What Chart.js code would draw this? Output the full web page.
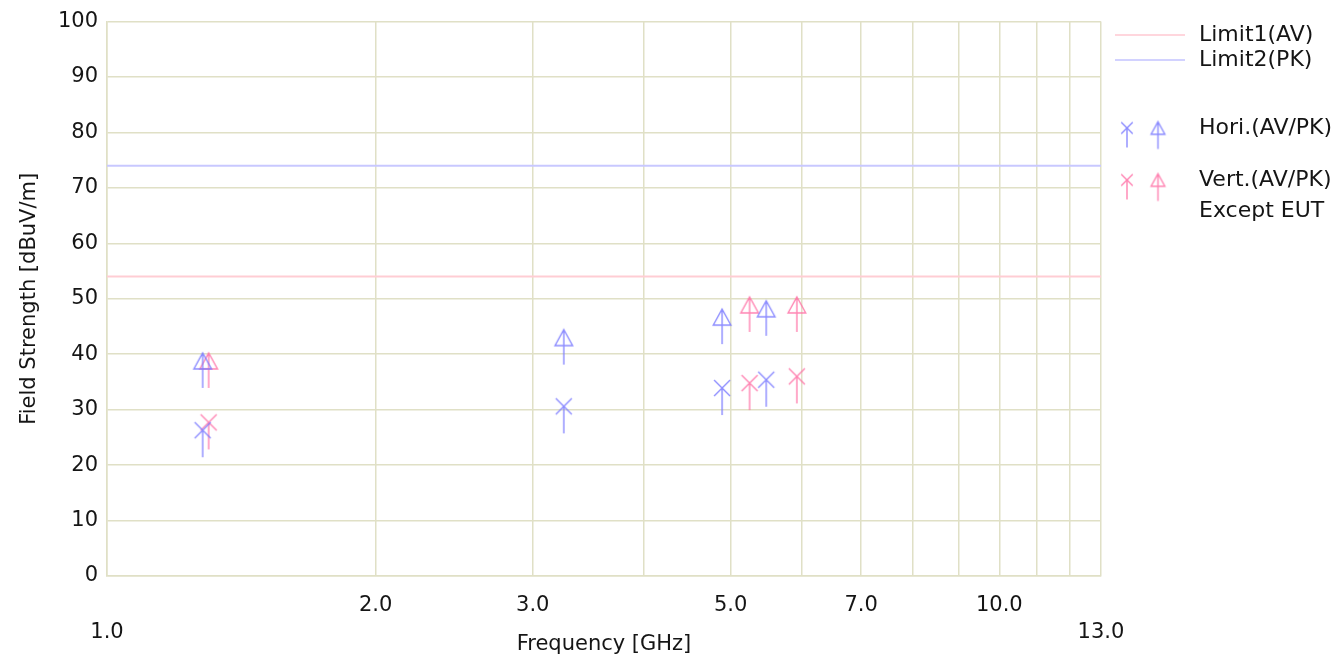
<!DOCTYPE html>
<html>
<head>
<meta charset="utf-8">
<script src="https://cdn.jsdelivr.net/npm/chart.js@4/dist/chart.umd.min.js"></script>
<style>
    html, body { margin: 0; padding: 0; background: #fff; }
    #wrap { width: 1337px; height: 657px; position: relative; }
</style>
</head>
<body>
<div id="wrap"><canvas id="chart" width="1337" height="657"></canvas></div>
<script>
// frequencies in GHz, levels in dBuV/m
const horiFreq = [1.28, 3.25, 4.89, 5.48]
const horiAV = [26.3, 30.6, 33.9, 35.4]
const horiPK = [38.8, 43.0, 46.7, 48.2]

const vertFreq = [1.30, 5.25, 5.93]
const vertAV = [27.7, 34.8, 36.0]
const vertPK = [38.8, 48.9, 48.9]

const limitFreq = [1.0, 13.0]
const limit1AV = 54
const limit2PK = 74

const gridFreqs = [1, 2, 3, 4, 5, 6, 7, 8, 9, 10, 11, 12, 13]
const labelFreqs = [2, 3, 5, 7, 10]
const edgeFreqs = [1, 13]

const BLUE = 'rgba(120,120,255,0.85)'
const PINK = 'rgba(255,110,165,0.85)'
const GRID = 'rgb(224,224,198)'
const FONT = 'DejaVu Sans'
const TEXT = '#151515'

// marker with a stem going down from its centre
function makeIcon(kind, color, s) {
    const arm = 8 * s
    const stem = 27 * s
    const w = Math.ceil(arm * 2 + 6)
    const h = Math.ceil(stem * 2 + 6)
    const c = document.createElement('canvas')
    c.width = w
    c.height = h
    const g = c.getContext('2d')
    const cx = w / 2, cy = h / 2
    g.strokeStyle = color
    g.lineWidth = 1.4
    g.beginPath()
    if (kind === 'x') {
        g.moveTo(cx - arm, cy - arm)
        g.lineTo(cx + arm, cy + arm)
        g.moveTo(cx + arm, cy - arm)
        g.lineTo(cx - arm, cy + arm)
        g.moveTo(cx, cy)
        g.lineTo(cx, cy + stem)
    } else {
        g.moveTo(cx, cy - arm)
        g.lineTo(cx + arm * 1.1, cy + arm)
        g.lineTo(cx - arm * 1.1, cy + arm)
        g.closePath()
        g.moveTo(cx, cy - arm)
        g.lineTo(cx, cy + stem)
    }
    g.stroke()
    return c
}

function pts(xs, ys) {
    return xs.map((x, i) => ({ x: x, y: ys[i] }))
}

const legendPlugin = {
    id: 'sideLegend',
    afterDraw(chart) {
        const ctx = chart.ctx
        ctx.save()
        ctx.font = '22px "' + FONT + '"'
        ctx.fillStyle = TEXT
        ctx.textBaseline = 'middle'
        ctx.textAlign = 'left'
        const tx = 1199

        ctx.lineWidth = 1.5
        ctx.strokeStyle = 'rgb(255,200,210)'
        ctx.beginPath(); ctx.moveTo(1115, 35); ctx.lineTo(1185, 35); ctx.stroke()
        ctx.fillText('Limit1(AV)', tx, 35)
        ctx.strokeStyle = 'rgb(195,195,255)'
        ctx.beginPath(); ctx.moveTo(1115, 60); ctx.lineTo(1185, 60); ctx.stroke()
        ctx.fillText('Limit2(PK)', tx, 60)

        const rows = [[BLUE, 128, 'Hori.(AV/PK)'], [PINK, 180, 'Vert.(AV/PK)']]
        rows.forEach(([col, y, txt]) => {
            const ix = makeIcon('x', col, 0.72)
            const it = makeIcon('t', col, 0.78)
            ctx.drawImage(ix, 1127 - ix.width / 2, y - ix.height / 2)
            ctx.drawImage(it, 1158 - it.width / 2, y - it.height / 2)
            ctx.fillText(txt, tx, y)
        })
        ctx.fillText('Except EUT', tx, 211)
        ctx.restore()
    }
}

new Chart(document.getElementById('chart'), {
    type: 'scatter',
    data: {
        datasets: [
            {
                label: 'Limit1(AV)',
                data: pts(limitFreq, [limit1AV, limit1AV]),
                showLine: true,
                borderColor: 'rgb(255,205,212)',
                borderWidth: 2,
                pointRadius: 0,
            },
            {
                label: 'Limit2(PK)',
                data: pts(limitFreq, [limit2PK, limit2PK]),
                showLine: true,
                borderColor: 'rgb(200,200,255)',
                borderWidth: 2,
                pointRadius: 0,
            },
            {
                label: 'Hori. AV',
                data: pts(horiFreq, horiAV),
                pointStyle: makeIcon('x', BLUE, 1),
            },
            {
                label: 'Hori. PK',
                data: pts(horiFreq, horiPK),
                pointStyle: makeIcon('t', BLUE, 1),
            },
            {
                label: 'Vert. AV',
                data: pts(vertFreq, vertAV),
                pointStyle: makeIcon('x', PINK, 1),
            },
            {
                label: 'Vert. PK',
                data: pts(vertFreq, vertPK),
                pointStyle: makeIcon('t', PINK, 1),
            },
        ],
    },
    options: {
        responsive: false,
        animation: false,
        events: [],
        layout: {
            padding: { top: 20, right: 236, bottom: 0, left: 0 },
        },
        plugins: {
            legend: { display: false },
            tooltip: { enabled: false },
        },
        scales: {
            x: {
                type: 'logarithmic',
                min: 1,
                max: 13,
                afterBuildTicks: (scale) => {
                    scale.ticks = gridFreqs.map((v) => ({ value: v }))
                },
                afterFit: (scale) => {
                    scale.height = 81
                },
                ticks: {
                    autoSkip: false,
                    maxRotation: 0,
                    padding: 16,
                    color: TEXT,
                    font: { family: FONT, size: 21, lineHeight: 1.3 },
                    callback: (v) => {
                        if (edgeFreqs.includes(v)) return ['', v.toFixed(1)]
                        if (labelFreqs.includes(v)) return v.toFixed(1)
                        return ''
                    },
                },
                grid: { color: GRID, lineWidth: 1.5, drawTicks: false },
                border: { color: GRID, width: 1.5 },
                title: {
                    display: true,
                    text: 'Frequency [GHz]',
                    color: TEXT,
                    font: { family: FONT, size: 21 },
                    padding: { top: 0, bottom: 0 },
                },
            },
            y: {
                min: 0,
                max: 100,
                afterFit: (scale) => {
                    scale.width = 107
                },
                ticks: {
                    stepSize: 10,
                    padding: 9,
                    color: TEXT,
                    font: { family: FONT, size: 21 },
                },
                grid: { color: GRID, lineWidth: 1.5, drawTicks: false },
                border: { color: GRID, width: 1.5 },
                title: {
                    display: true,
                    text: 'Field Strength [dBuV/m]',
                    color: TEXT,
                    font: { family: FONT, size: 21 },
                    padding: { top: 17, bottom: 0 },
                },
            },
        },
    },
    plugins: [legendPlugin],
})
</script>
</body>
</html>
